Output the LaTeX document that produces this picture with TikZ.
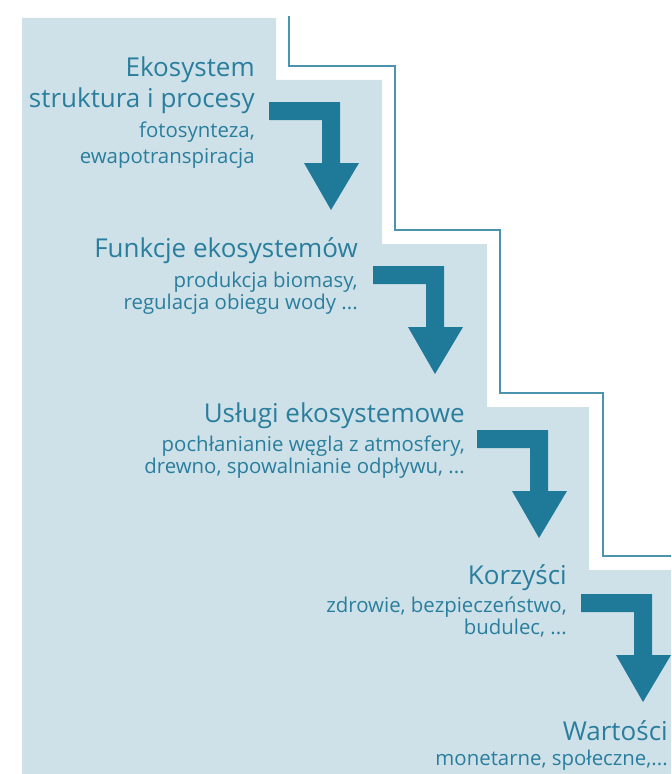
\documentclass[tikz,border=0pt]{standalone}
\usepackage{fontspec}
\setmainfont{Open Sans}
\usepackage{tikz}
\definecolor{stairblue}{HTML}{CFE1E8}
\definecolor{arrowteal}{HTML}{1F7A99}
\definecolor{textteal}{HTML}{2A7E9D}
\definecolor{lineteal}{HTML}{4C93AE}
\tikzset{title/.style={text=textteal, font=\fontsize{19.5}{23.25}\selectfont,
      align=right, inner sep=0pt, anchor=base east}}
\tikzset{opis/.style={text=textteal, font=\fontsize{15.3}{16.5}\selectfont,
      align=right, inner sep=0pt, anchor=base east}}

\begin{document}
\begin{tikzpicture}[x=0.75pt,y=-0.75pt]
		\useasboundingbox (0,0) rectangle (671,774);
		\fill[stairblue] (22,18) -| (276,80) -| (382,244) -| (487,407) -| (589,570) -| (671,774) -- (22,774) -- cycle;
		\draw[lineteal, line width=1pt] (289,16) |- (395,66) |- (500,230) |- (603,393) |- (671,556);
		\foreach \i in {0,...,3}
			\fill[arrowteal] (269+104*\i,102+164*\i) coordinate (a\i) -- ++(71,0) -- ++(0,61) -- ++(19,0) -- ++(-28,47) -- ++(-27,-47) -- ++(18,0) -- ++(0,-43) -- ++(-53,0) -- cycle;
		% multi-line nodes sit on the baseline of their last line
		\node[title] (ekosystem) at (255,108) {Ekosystem\\struktura i procesy};
		\node[opis] (ekosystem-opis) at (255,163) {fotosynteza,\\[2.7pt]ewapotranspiracja};
		\node[title] (funkcje) at (358,257) {Funkcje ekosystemów};
		\node[opis] (funkcje-opis) at (358,309) {produkcja biomasy,\\regulacja obiegu wody ...};
		\node[title] (uslugi) at (465,422) {Usługi ekosystemowe};
		\node[opis] (uslugi-opis) at (465,473) {pochłanianie węgla z atmosfery,\\drewno, spowalnianie odpływu, ...};
		\node[title] (korzysci) at (567,584) {Korzyści};
		\node[opis] (korzysci-opis) at (567,634) {zdrowie, bezpieczeństwo,\\budulec, ...};
		\node[title] (wartosci) at (668,740) {Wartości};
		\node[opis] (wartosci-opis) at (668,765) {monetarne, społeczne,...};
		\end{tikzpicture}
\end{document}
